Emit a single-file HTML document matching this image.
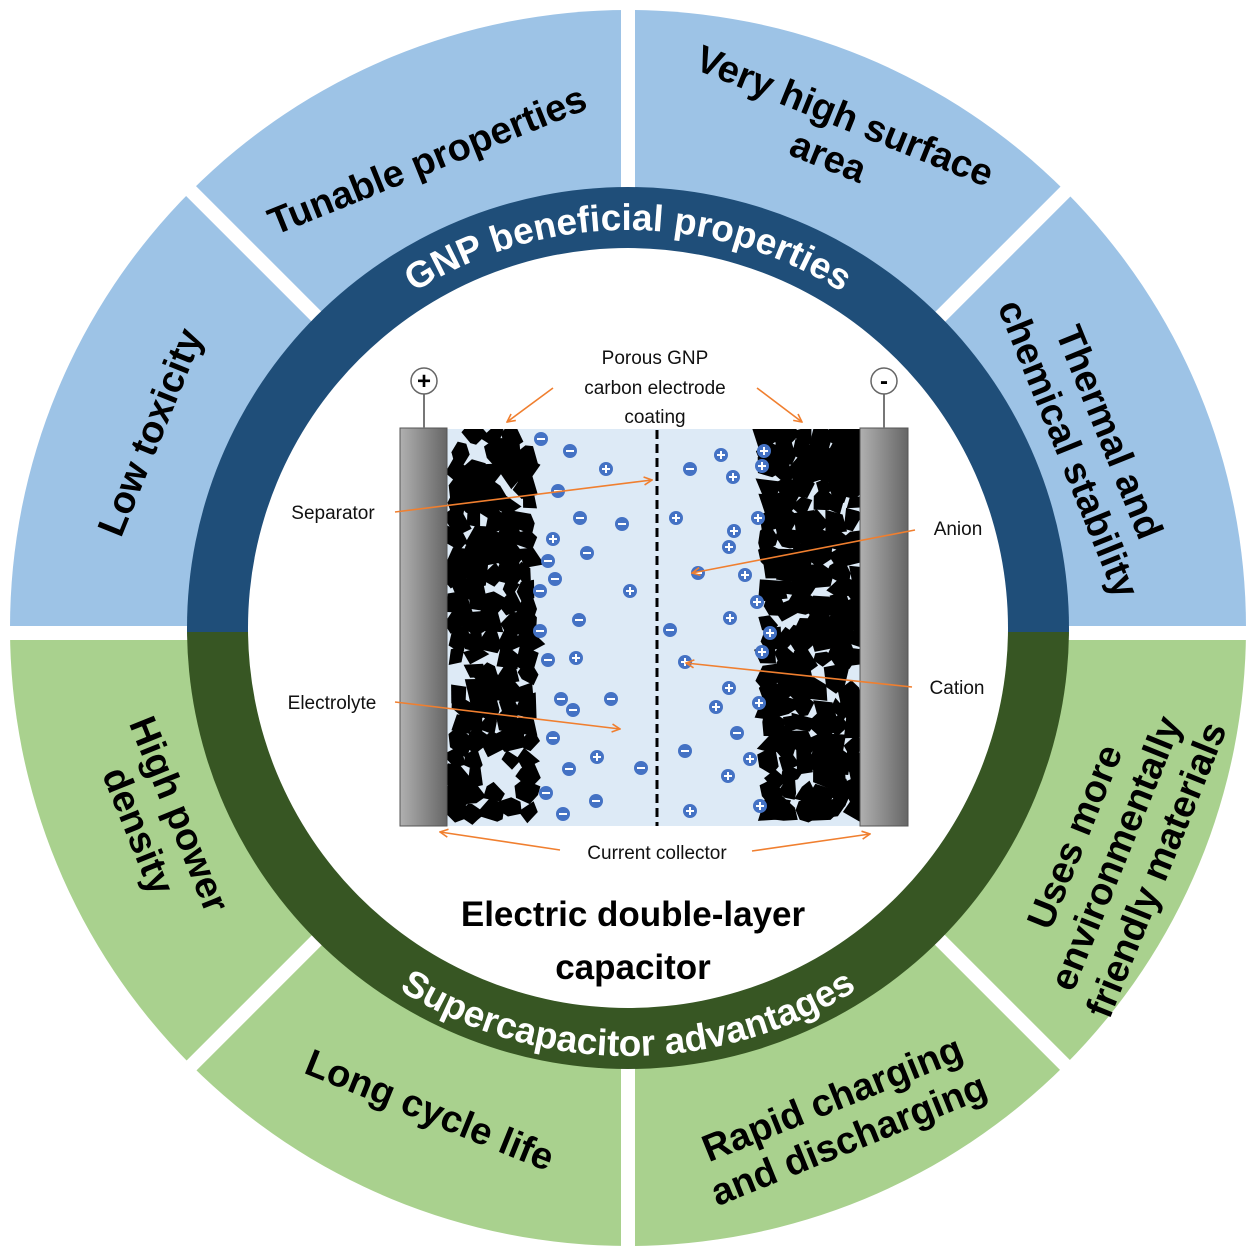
<!DOCTYPE html>
<html><head><meta charset="utf-8"><style>
html,body{margin:0;padding:0;background:#fff;}
svg{display:block;}
text{font-family:"Liberation Sans",sans-serif;}
.lab{font-size:38px;font-weight:bold;fill:#000;}
.sm{font-size:19px;fill:#111;}
</style></head><body>
<svg id="s" width="1257" height="1257" viewBox="0 0 1257 1257" xmlns="http://www.w3.org/2000/svg">
<defs>
<linearGradient id="g1" x1="0" x2="1"><stop offset="0" stop-color="#b0b0b0"/><stop offset="1" stop-color="#666"/></linearGradient>
<path id="top" d="M230,628 A398,398 0 0 1 1026,628"/>
<path id="bot" d="M200,628 A428,428 0 0 0 1056,628"/>
<marker id="ar" markerWidth="10" markerHeight="10" refX="9" refY="5" orient="auto" markerUnits="userSpaceOnUse"><path d="M1,1 L9,5 L1,9" fill="none" stroke="#f07f2f" stroke-width="1.6"/></marker>
<clipPath id="upper"><rect x="0" y="0" width="1257" height="632"/></clipPath>
<clipPath id="lower"><rect x="0" y="632" width="1257" height="700"/></clipPath>
<clipPath id="elec"><rect x="447" y="429" width="413" height="397"/></clipPath>
</defs>
<circle cx="628" cy="628" r="618" fill="#9dc3e6" clip-path="url(#upper)"/>
<circle cx="628" cy="628" r="618" fill="#a9d18e" clip-path="url(#lower)"/>
<g stroke="#fff" stroke-width="14">
<line x1="628" y1="0" x2="628" y2="1257"/>
<line x1="0" y1="633" x2="1257" y2="633"/>
<line x1="0" y1="0" x2="1257" y2="1257"/>
<line x1="1257" y1="0" x2="0" y2="1257"/>
</g>
<circle cx="628" cy="628" r="441" fill="#1f4e79" clip-path="url(#upper)"/>
<circle cx="628" cy="628" r="441" fill="#375623" clip-path="url(#lower)"/>
<circle cx="628" cy="628" r="380" fill="#fff"/>

<text font-size="37" font-weight="bold" fill="#fff" text-anchor="middle"><textPath href="#top" startOffset="50%">GNP beneficial properties</textPath></text>
<text font-size="37" font-weight="bold" fill="#fff" text-anchor="middle"><textPath href="#bot" startOffset="50%">Supercapacitor advantages</textPath></text>

<text class="lab" text-anchor="middle" transform="translate(432,172) rotate(-22)">Tunable properties</text>
<text class="lab" text-anchor="middle" transform="translate(840,128) rotate(22)"><tspan x="0" y="0">Very high surface</tspan><tspan x="0" y="44">area</tspan></text>
<text class="lab" text-anchor="middle" transform="translate(162,437) rotate(-68)">Low toxicity</text>
<text class="lab" text-anchor="middle" transform="translate(1090,440) rotate(68)"><tspan x="0" y="-8">Thermal and</tspan><tspan x="0" y="36">chemical stability</tspan></text>
<text class="lab" text-anchor="middle" transform="translate(160,822) rotate(68)"><tspan x="0" y="-8">High power</tspan><tspan x="0" y="36">density</tspan></text>
<text class="lab" text-anchor="middle" transform="translate(425,1122) rotate(22)">Long cycle life</text>
<text class="lab" text-anchor="middle" transform="translate(840,1118) rotate(-22)"><tspan x="0" y="-8">Rapid charging</tspan><tspan x="0" y="36">and discharging</tspan></text>
<text class="lab" text-anchor="middle" transform="translate(1120,855) rotate(-68)"><tspan x="0" y="-36">Uses more</tspan><tspan x="0" y="8">environmentally</tspan><tspan x="0" y="52">friendly materials</tspan></text>

<!-- capacitor -->
<rect x="447" y="429" width="413" height="397" fill="#ddeaf6"/>
<g id="parts" clip-path="url(#elec)"></g>
<rect x="400" y="428" width="47" height="398" fill="url(#g1)" stroke="#555" stroke-width="1"/>
<rect x="860" y="428" width="48" height="398" fill="url(#g1)" stroke="#555" stroke-width="1"/>
<line x1="657" y1="430" x2="657" y2="826" stroke="#000" stroke-width="3" stroke-dasharray="9,5"/>
<line x1="424" y1="394" x2="424" y2="428" stroke="#777" stroke-width="2"/>
<line x1="884" y1="394" x2="884" y2="428" stroke="#777" stroke-width="2"/>
<circle cx="424" cy="381" r="13" fill="#fff" stroke="#666" stroke-width="1.5"/>
<circle cx="884" cy="381" r="13" fill="#fff" stroke="#666" stroke-width="1.5"/>
<text x="424" y="389" font-size="24" font-weight="bold" text-anchor="middle">+</text>
<text x="884" y="389" font-size="24" font-weight="bold" text-anchor="middle">-</text>
<g id="ions"></g>

<g class="sm" text-anchor="middle">
<text x="655" y="364">Porous GNP</text>
<text x="655" y="394">carbon electrode</text>
<text x="655" y="423">coating</text>
<text x="333" y="519">Separator</text>
<text x="958" y="535">Anion</text>
<text x="957" y="694">Cation</text>
<text x="332" y="709">Electrolyte</text>
<text x="657" y="859">Current collector</text>
</g>
<g stroke="#f07f2f" stroke-width="1.6" fill="none" marker-end="url(#ar)">
<line x1="553" y1="388" x2="507" y2="422"/>
<line x1="757" y1="388" x2="802" y2="422"/>
<line x1="395" y1="512" x2="652" y2="480"/>
<line x1="915" y1="530" x2="692" y2="573"/>
<line x1="912" y1="687" x2="686" y2="663"/>
<line x1="395" y1="702" x2="620" y2="729"/>
<line x1="560" y1="850" x2="440" y2="832"/>
<line x1="752" y1="851" x2="870" y2="834"/>
</g>

<text x="633" y="926" font-size="35" font-weight="bold" text-anchor="middle">Electric double-layer</text>
<text x="633" y="979" font-size="35" font-weight="bold" text-anchor="middle">capacitor</text>
</svg>
<script>
(function(){
var NS="http://www.w3.org/2000/svg";
var seed=11;function r(){seed=(seed*16807)%2147483647;return seed/2147483647;}
var g=document.getElementById("parts");
function fill(x0,x1){
 for(var y=436;y<826;y+=17){
  for(var x=x0;x<x1;x+=17){
   if(r()<0.05)continue;
   var cx=x+(r()-0.5)*6,cy=y+(r()-0.5)*6,n=4+Math.floor(r()*3),rad=13+r()*7,a0=r()*6.28,pts=[];
   for(var i=0;i<n;i++){var a=a0+i*6.28/n+(r()-0.5)*0.7,rr=rad*(0.55+r()*0.5);
    pts.push((cx+Math.cos(a)*rr).toFixed(1)+","+(cy+Math.sin(a)*rr).toFixed(1));}
   var p=document.createElementNS(NS,"polygon");p.setAttribute("points",pts.join(" "));p.setAttribute("fill","#000");g.appendChild(p);
  }
 }
}
fill(458,540);fill(770,862);
var ig=document.getElementById("ions");
var minus=[[541,439],[570,451],[558,491],[580,518],[622,524],[587,553],[548,561],[555,579],[540,591],[579,620],[540,631],[548,660],[561,699],[573,710],[611,699],[553,738],[569,769],[546,793],[596,801],[563,814],[641,768],[690,469],[698,573],[670,630],[737,733],[685,751]];
var plus=[[606,469],[553,539],[630,591],[576,658],[597,757],[721,455],[733,477],[764,451],[762,466],[676,518],[734,531],[729,547],[758,518],[745,575],[757,602],[730,618],[770,633],[762,652],[685,662],[729,688],[716,707],[759,703],[750,759],[728,776],[760,806],[690,811]];
function ion(p,pl){var c=document.createElementNS(NS,"circle");c.setAttribute("cx",p[0]);c.setAttribute("cy",p[1]);c.setAttribute("r",7);c.setAttribute("fill","#4472c4");ig.appendChild(c);
 var l=document.createElementNS(NS,"path");var d="M"+(p[0]-4)+","+p[1]+"h8";if(pl)d+="M"+p[0]+","+(p[1]-4)+"v8";l.setAttribute("d",d);l.setAttribute("stroke","#fff");l.setAttribute("stroke-width","2");ig.appendChild(l);}
minus.forEach(function(p){ion(p,false)});plus.forEach(function(p){ion(p,true)});
})();
</script>
</body></html>
